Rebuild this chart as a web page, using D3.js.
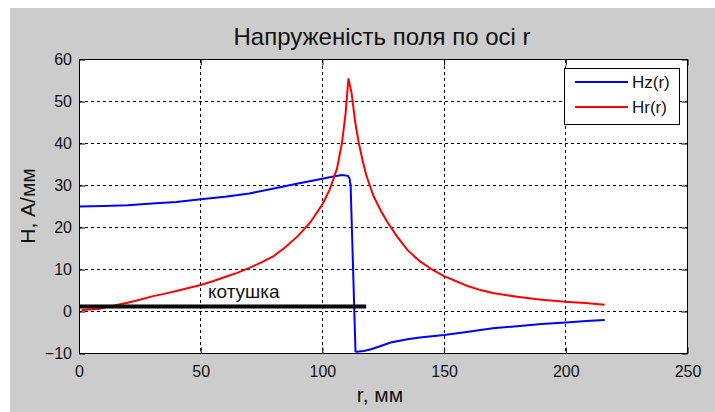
<!DOCTYPE html>
<html><head><meta charset="utf-8">
<script src="https://cdn.jsdelivr.net/npm/d3@7"></script>
<style>body{margin:0;background:#fff}svg{display:block}text{font-family:Arial,"Liberation Sans",sans-serif;fill:#111}</style>
</head><body>
<script>
const title = "Напруженість поля по осі r";
const xLabel = "r, мм";
const yLabel = "H, А/мм";
const seriesNames = ["Hz(r)", "Hr(r)"];
const seriesColors = ["#0000ff", "#ff0000"];
const xTicks = [0, 50, 100, 150, 200, 250];
const yTicks = [-10, 0, 10, 20, 30, 40, 50, 60];

const hzR = [0,10,20,30,40,50,60,70,80,90,100,105,108,110.5,111.2,111.6,113.6,114,117,120,124,128,135,140,150,160,170,180,190,200,210,216];
const hzV = [25,25.1,25.3,25.7,26.1,26.7,27.3,28.1,29.3,30.5,31.6,32.2,32.5,32.3,31.6,30,-9.5,-9.6,-9.4,-9.0,-8.2,-7.4,-6.6,-6.2,-5.6,-4.8,-4.0,-3.5,-3.0,-2.6,-2.2,-2.0];
const hrR = [1,4,8,12,16,20,25,30,35,40,45,50,55,60,65,70,75,80,85,90,95,100,103,106,108,109.5,110.7,112,113.5,115,116.5,118,121,124,127,130.5,135,140,145,150,155,160,165,170,180,190,200,208,216];
const hrV = [0.3,0.5,0.6,1.1,1.6,2.1,2.8,3.6,4.2,4.9,5.6,6.3,7.2,8.2,9.2,10.4,11.7,13.2,15.4,18.0,21.2,25.5,29,34,40,47,55.5,52,45,40,36,32.5,27.5,24,21,18,14.6,12,10,8.4,7.2,6,5.1,4.4,3.5,2.8,2.3,2.0,1.6];
const coilR = [0, 118];
const coilV = [1.2, 1.2];
const coilLabel = "котушка";
const coilLabelPos = [53, 3.3];

const W = 715, H = 412;
const svg = d3.select("body").append("svg").attr("width", W).attr("height", H);
svg.append("rect").attr("x", 10).attr("y", 8).attr("width", W - 10).attr("height", H - 8).attr("fill", "#cccccc");

const x = d3.scaleLinear().domain([0, 250]).range([79, 687.5]);
const y = d3.scaleLinear().domain([-10, 60]).range([353.5, 59.5]);
const [x0, x1] = x.range(), [y0, y1] = y.range();

svg.append("rect").attr("x", x0).attr("y", y1).attr("width", x1 - x0).attr("height", y0 - y1).attr("fill", "#fff");

// grid
const g = svg.append("g");
g.selectAll(".gx").data(xTicks.slice(1, -1)).join("line")
  .attr("x1", d => x(d)).attr("x2", d => x(d)).attr("y1", y1).attr("y2", y0)
  .attr("stroke", "#000").attr("stroke-width", 1).attr("stroke-dasharray", "3,3").attr("shape-rendering", "crispEdges");
g.selectAll(".gy").data(yTicks.slice(1, -1)).join("line")
  .attr("y1", d => y(d)).attr("y2", d => y(d)).attr("x1", x0).attr("x2", x1)
  .attr("stroke", "#000").attr("stroke-width", 1).attr("stroke-dasharray", "3,3").attr("shape-rendering", "crispEdges");

// axes (ticks inward)
const tl = 6;
const axB = d3.axisBottom(x).tickValues(xTicks).tickSizeInner(-tl).tickSizeOuter(0).tickPadding(12);
const axT = d3.axisTop(x).tickValues(xTicks).tickSizeInner(-tl).tickSizeOuter(0).tickFormat("");
const axL = d3.axisLeft(y).tickValues(yTicks).tickSizeInner(-tl).tickSizeOuter(0).tickPadding(7);
const axR = d3.axisRight(y).tickValues(yTicks).tickSizeInner(-tl).tickSizeOuter(0).tickFormat("");
function style(sel) {
  sel.select(".domain").remove();
  sel.selectAll("line").attr("stroke", "#000");
  sel.selectAll("text").attr("font-size", 16).attr("fill", "#111").attr("font-family", "Arial, 'Liberation Sans', sans-serif");
}
svg.append("g").attr("transform", `translate(0,${y0})`).call(axB).call(style);
svg.append("g").attr("transform", `translate(0,${y1})`).call(axT).call(style);
svg.append("g").attr("transform", `translate(${x0},0)`).call(axL).call(style);
svg.append("g").attr("transform", `translate(${x1},0)`).call(axR).call(style);

// clip
svg.append("clipPath").attr("id", "clip").append("rect").attr("x", x0).attr("y", y1).attr("width", x1 - x0).attr("height", y0 - y1);
const pl = svg.append("g").attr("clip-path", "url(#clip)");
const line = d3.line().x(d => x(d[0])).y(d => y(d[1]));
pl.append("path").datum(hzR.map((r, i) => [r, hzV[i]])).attr("d", line).attr("fill", "none").attr("stroke", seriesColors[0]).attr("stroke-width", 2);
pl.append("path").datum(hrR.map((r, i) => [r, hrV[i]])).attr("d", line).attr("fill", "none").attr("stroke", seriesColors[1]).attr("stroke-width", 2);
pl.append("path").datum(coilR.map((r, i) => [r, coilV[i]])).attr("d", line).attr("fill", "none").attr("stroke", "#000").attr("stroke-width", 4);
svg.append("text").attr("x", x(coilLabelPos[0])).attr("y", y(coilLabelPos[1])).attr("font-size", 19).text(coilLabel);

// box
svg.append("rect").attr("x", x0).attr("y", y1).attr("width", x1 - x0).attr("height", y0 - y1).attr("fill", "none").attr("stroke", "#000").attr("stroke-width", 1).attr("shape-rendering", "crispEdges");

// legend
const lg = svg.append("g");
lg.append("rect").attr("x", 564.5).attr("y", 68.5).attr("width", 115).attr("height", 56).attr("fill", "#fff").attr("stroke", "#000");
seriesNames.forEach((n, i) => {
  const yy = 82 + i * 25;
  lg.append("line").attr("x1", 575).attr("x2", 628).attr("y1", yy).attr("y2", yy).attr("stroke", seriesColors[i]).attr("stroke-width", 2);
  lg.append("text").attr("x", 632).attr("y", yy + 6).attr("font-size", 17).text(n);
});

// titles
svg.append("text").attr("x", 382).attr("y", 45).attr("text-anchor", "middle").attr("font-size", 24).text(title);
svg.append("text").attr("x", 380).attr("y", 402).attr("text-anchor", "middle").attr("font-size", 21).text(xLabel);
svg.append("text").attr("transform", "translate(35,206) rotate(-90)").attr("text-anchor", "middle").attr("font-size", 21).text(yLabel);
</script>
</body></html>
